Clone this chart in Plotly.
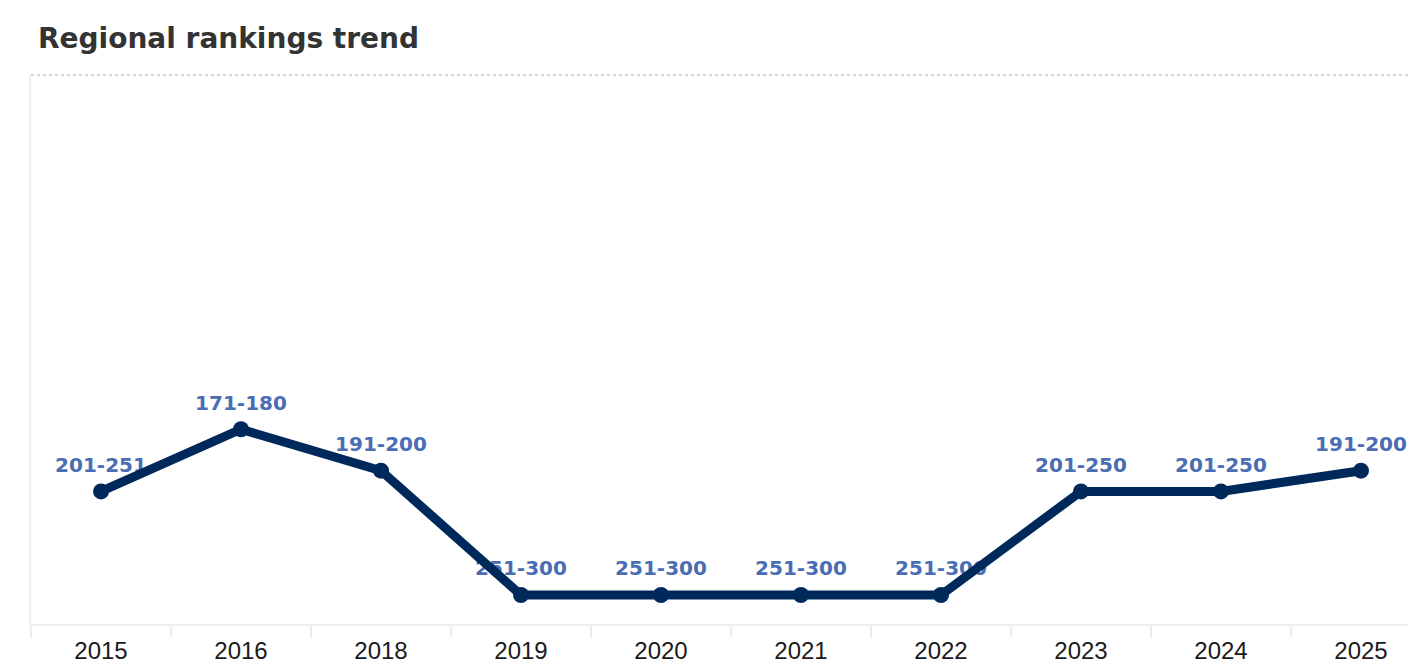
import plotly.graph_objects as go

years = ["2015", "2016", "2018", "2019", "2020", "2021", "2022", "2023", "2024", "2025"]
rank_labels = ["201-251", "171-180", "191-200", "251-300", "251-300", "251-300",
               "251-300", "201-250", "201-250", "191-200"]
rank_values = [201, 171, 191, 251, 251, 251, 251, 201, 201, 191]

navy = "#00295b"
label_blue = "#4a6db3"

fig = go.Figure()
fig.add_trace(go.Scatter(
    x=years, y=rank_values, mode="markers+text", text=rank_labels,
    textposition="top center",
    marker=dict(size=22, opacity=0),
    textfont=dict(family="DejaVu Sans", size=20, color=label_blue, weight="bold"),
    cliponaxis=False, hoverinfo="skip", showlegend=False,
))
fig.add_trace(go.Scatter(
    x=years, y=rank_values, mode="lines+markers",
    line=dict(color=navy, width=9),
    marker=dict(color=navy, size=16),
    cliponaxis=False, showlegend=False,
))

fig.update_layout(
    width=1416, height=665,
    margin=dict(l=23, r=8, t=67, b=49),
    paper_bgcolor="white", plot_bgcolor="white",
    title=dict(text="<b>Regional rankings trend</b>", x=0, xref="paper", xanchor="left",
               y=0.955, yref="container", yanchor="middle",
               pad=dict(l=7),
               font=dict(family="DejaVu Sans", size=28, color="#333333")),
    xaxis=dict(
        type="category", range=[-0.5, 9.393],
        showline=True, linecolor="#eeeeee", linewidth=2,
        ticks="outside", tickson="boundaries", ticklen=12, tickcolor="#eeeeee", tickwidth=2,
        ticklabelstandoff=4,
        showgrid=False,
        tickfont=dict(family="Liberation Sans", size=24, color="#1a1a1a"),
    ),
    yaxis=dict(
        range=[265, 0], showticklabels=False, showgrid=False, zeroline=False,
        showline=True, linecolor="#eeeeee", linewidth=2, ticks="",
    ),
    shapes=[dict(type="line", xref="paper", yref="paper", x0=0, x1=1, y0=1, y1=1,
                 line=dict(color="#c8c8c8", width=1.5, dash="dot"))],
)

fig.write_html("out.html")
